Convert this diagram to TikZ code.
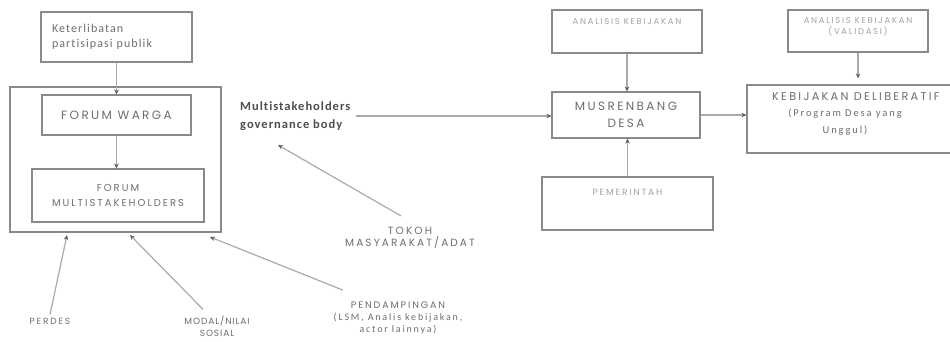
\documentclass[tikz,border=0pt]{standalone}
\usepackage{fontspec}
\setmainfont{Carlito}
\newfontfamily\capsf[LetterSpace=20]{Poppins}
\newfontfamily\capst[LetterSpace=10]{Poppins}
\newfontfamily\mixf[LetterSpace=18,Ligatures=NoCommon]{Carlito}
\newfontfamily\mixk[LetterSpace=9,Ligatures=NoCommon]{Carlito}
\newfontfamily\boldf[LetterSpace=8,Ligatures=NoCommon]{Carlito}
\usetikzlibrary{arrows.meta}
\definecolor{boxc}{HTML}{8A8A8A}
\definecolor{txtc}{HTML}{6E6E6E}
\definecolor{faintc}{HTML}{A2A2A2}
\definecolor{linec}{HTML}{AAAAAA}
\definecolor{tipc}{HTML}{5E5E5E}
\definecolor{boldc}{HTML}{4E4E4E}
\begin{document}
\begin{tikzpicture}[x=1pt,y=-1pt,
  boxs/.style={draw=boxc, line width=1.1pt, inner sep=0pt},
  conn/.style={draw=linec, line width=1.2pt, -{Stealth[length=5pt,width=4.5pt,color=tipc]}},
  capL/.style={font=\capsf\fontsize{12}{17}\selectfont, text=txtc, inner sep=0pt, align=center},
  capM/.style={font=\capsf\fontsize{10.5}{11.5}\selectfont, text=txtc, inner sep=0pt, align=center},
  capS/.style={font=\capsf\fontsize{9}{12}\selectfont, text=txtc, inner sep=0pt, align=center},
  capF/.style={font=\capsf\fontsize{8.5}{10.5}\selectfont, text=faintc, inner sep=0pt, align=center},
]
\useasboundingbox (0,0) rectangle (950,341);
\fill[white] (0,0) rectangle (950,341);

% left group
\node[boxs, minimum width=211pt, minimum height=145pt] (outer) at (115.5,159.5) {};
\node[boxs, minimum width=151pt, minimum height=50pt, text width=129pt, align=left,
      font=\mixk\fontsize{12}{15}\selectfont, text=txtc] (kp) at (116.5,37)
      {Keterlibatan\\partisipasi publik};
\node[boxs, minimum width=149pt, minimum height=40pt, capL] (fw) at (116.5,115) {FORUM WARGA};
\node[boxs, minimum width=172pt, minimum height=53pt, font=\capsf\fontsize{10}{15}\selectfont,
      text=txtc, align=center] (fm) at (118,195.5) {FORUM\\MULTISTAKEHOLDERS};

\draw[conn] (kp.south) -- (kp.south |- fw.north);
\draw[conn] (fw.south) -- (fw.south |- fm.north);

% governance body
\node[font=\boldf\bfseries\fontsize{12.5}{18}\selectfont, text=boldc, inner sep=0pt, align=left,
      anchor=west] (mg) at (240,116) {Multistakeholders\\governance body};

% bottom labels
\node[capS] (perdes) at (50,321) {PERDES};
\node[font=\capst\fontsize{9}{11.5}\selectfont, text=txtc, inner sep=0pt, align=center] (modal) at (217,326.5) {MODAL/NILAI\\SOSIAL};
\node[inner sep=0pt, align=center, text=txtc] (pend) at (398,317.5)
  {{\capsf\fontsize{9.5}{11}\selectfont PENDAMPINGAN}\\
   {\mixf\fontsize{10}{11}\selectfont (LSM, Analis kebijakan,}\\
   {\mixf\fontsize{10}{11}\selectfont actor lainnya)}};
\node[capM] (tok) at (410,237.5) {TOKOH\\MASYARAKAT/ADAT};

\coordinate (tipA) at (67,235);
\coordinate (tipB) at (130,235);
\coordinate (tipC) at (210,237);
\coordinate (tipM) at (278,145);

\draw[conn] ([yshift=3pt]perdes.north) -- (tipA);
\draw[conn] ([xshift=-14pt,yshift=7pt]modal.north) -- (tipB);
\draw[conn] ([xshift=-55pt,yshift=11pt]pend.north) -- (tipC);
\draw[conn] ([xshift=-9pt,yshift=11pt]tok.north) -- (tipM);

% right group
\node[boxs, minimum width=150pt, minimum height=43pt] (ak1) at (627,31.5) {};
\node[capF] (ak1t) at (627,22) {ANALISIS KEBIJAKAN};
\node[boxs, minimum width=148pt, minimum height=46pt, capL] (mus) at (626,115) {MUSRENBANG\\DESA};
\node[boxs, minimum width=171pt, minimum height=53pt] (pem) at (627.5,203.5) {};
\node[capF, font=\capsf\fontsize{9}{11}\selectfont] (pemt) at (627.5,192) {PEMERINTAH};
\node[boxs, minimum width=140pt, minimum height=42pt] (ak2) at (858,31) {};
\node[capF] (ak2t) at (858,27) {ANALISIS KEBIJAKAN\\(VALIDASI)};
\node[boxs, minimum width=228pt, minimum height=68pt] (kd) at (861,119) {};
\node[capM, font=\capsf\fontsize{11.3}{13}\selectfont, anchor=west] (kdt1) at (772,97) {KEBIJAKAN DELIBERATIF};
\node[font=\mixf\fontsize{10.5}{17}\selectfont, text=txtc, inner sep=0pt, align=center] (kdt2) at (845,122)
  {(Program Desa yang\\Unggul)};

\draw[conn, shorten <=6pt] (mg.east) -- (mg.east -| mus.west);
\draw[conn] (ak1.south) -- (ak1.south |- mus.north);
\draw[conn] (pem.north) -- (pem.north |- mus.south);
\draw[conn] (mus.east) -- (mus.east -| kd.west);
\draw[conn, shorten >=6pt] (ak2.south) -- (ak2.south |- kd.north);
\end{tikzpicture}
\end{document}
